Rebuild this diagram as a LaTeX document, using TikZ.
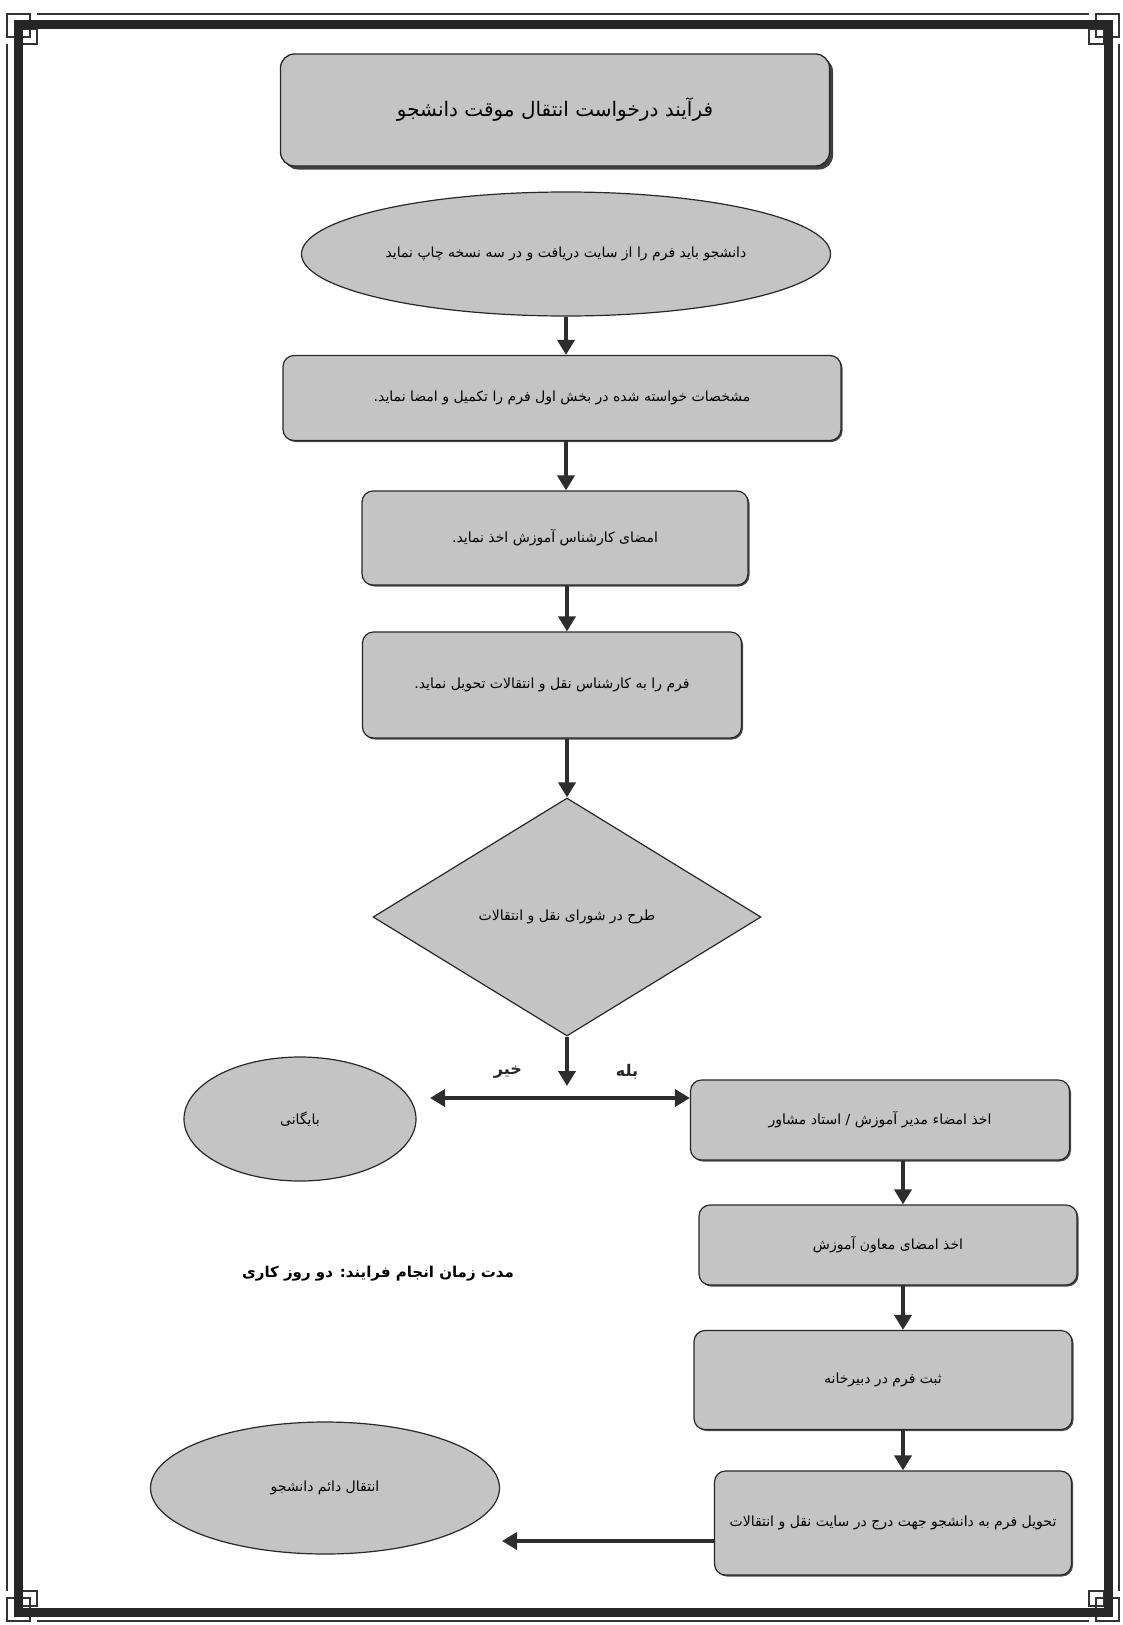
\documentclass[tikz,border=0pt]{standalone}
\usepackage{fontspec}
\usepackage{tikz}
\usetikzlibrary{positioning, arrows.meta, shapes.geometric, shadows, calc}
\TeXXeTstate=1
\newfontfamily\farsifont[Script=Arabic]{DejaVu Sans}
\definecolor{boxgray}{RGB}{196,196,196}
\definecolor{edgegray}{RGB}{40,40,40}
\definecolor{arrowgray}{RGB}{45,45,45}
\tikzset{
    titlebox/.style={rectangle, rounded corners=14pt, draw=edgegray, fill=boxgray, line width=1.3pt, font=\farsifont\fontsize{20}{24}\selectfont, drop shadow={shadow xshift=3.5pt, shadow yshift=-3.5pt, fill=black!75, opacity=1}},
    procbox/.style={rectangle, rounded corners=11pt, draw=edgegray, fill=boxgray, line width=1.2pt, font=\farsifont\fontsize{14}{17}\selectfont, drop shadow={shadow xshift=1.5pt, shadow yshift=-1.5pt, fill=black!70, opacity=1}},
    ovalbox/.style={ellipse, draw=edgegray, fill=boxgray, line width=1.2pt, inner sep=0pt, font=\farsifont\fontsize{14}{17}\selectfont},
    decision/.style={diamond, draw=edgegray, fill=boxgray, line width=1.2pt, inner sep=0pt, aspect=1.63, font=\farsifont\fontsize{14}{17}\selectfont},
    arr/.style={-{Triangle[length=15pt, width=17pt]}, line width=4pt, color=arrowgray},
    dblarr/.style={{Triangle[length=15pt, width=17pt]}-{Triangle[length=15pt, width=17pt]}, line width=4pt, color=arrowgray},
    branchlbl/.style={font=\farsifont\bfseries\fontsize{16}{19}\selectfont, text=black!85},
    thinframe/.style={draw=black!80, line width=1.5pt},
    frameline/.style={draw=black!85, line width=9pt}
}

\begin{document}
\begin{tikzpicture}[x=1pt, y=-1pt]
    % Page and frame
    \useasboundingbox (0,0) rectangle (1122,1625);
    \fill[white] (0,0) rectangle (1122,1625);
    \foreach \sx/\sy in {1/1, -1/1, 1/-1, -1/-1} {
        \begin{scope}[shift={(563,817.5)}, xscale=\sx, yscale=\sy]
            \draw[thinframe] (-556,-803.5) rectangle (-533,-780.5);
            \draw[thinframe] (-541,-788.5) rectangle (-526,-773.5);
            \draw[thinframe] (-526,-803.5) -- (0,-803.5);
            \draw[thinframe] (-556,-773.5) -- (-556,0);
        \end{scope}
    }
    \draw[frameline] (18,24) rectangle (1108,1612);

    % Axes of the arrows
    \coordinate (axis) at (566,0);
    \coordinate (raxis) at (903,0);

    % Main column
    \node[titlebox, minimum width=549pt, minimum height=112pt] (title) at (555,110) {\beginR فرآیند درخواست انتقال موقت دانشجو\endR};
    \node[ovalbox, minimum width=529pt, minimum height=124pt] (start) at (566,254) {\beginR دانشجو باید فرم را از سایت دریافت و در سه نسخه چاپ نماید\endR};
    \node[procbox, minimum width=558pt, minimum height=85pt] (fill) at (562,398) {\beginR مشخصات خواسته شده در بخش اول فرم را تکمیل و امضا نماید.\endR};
    \node[procbox, minimum width=386pt, minimum height=94pt] (expert) at (555,538) {\beginR امضای کارشناس آموزش اخذ نماید.\endR};
    \node[procbox, minimum width=379pt, minimum height=106pt] (handin) at (552,685) {\beginR فرم را به کارشناس نقل و انتقالات تحویل نماید.\endR};
    \node[decision, minimum width=388pt, minimum height=238pt] (council) at (567,917) {\beginR طرح در شورای نقل و انتقالات\endR};

    % Branches
    \coordinate (splitin) at (567,1086);
    \coordinate (split) at (567,1098);
    \coordinate (noend) at (430,1098);
    \node[branchlbl] (nolbl) at (508,1072) {\beginR خیر\endR};
    \node[branchlbl] (yeslbl) at (627,1072) {\beginR بله\endR};
    \node[ovalbox, minimum width=232pt, minimum height=124pt] (archive) at (300,1119) {\beginR بایگانی\endR};

    % Right column
    \node[procbox, minimum width=379pt, minimum height=80pt] (headsign) at (880,1120) {\beginR اخذ امضاء مدیر آموزش / استاد مشاور\endR};
    \node[procbox, minimum width=378pt, minimum height=80pt] (deputysign) at (888,1245) {\beginR اخذ امضای معاون آموزش\endR};
    \node[procbox, minimum width=378pt, minimum height=99pt] (register) at (883,1380) {\beginR ثبت فرم در دبیرخانه\endR};
    \node[procbox, minimum width=357pt, minimum height=104pt] (giveback) at (893,1523) {\beginR تحویل فرم به دانشجو جهت درج در سایت نقل و انتقالات\endR};
    \node[ovalbox, minimum width=349pt, minimum height=132pt] (final) at (325,1488) {\beginR انتقال دائم دانشجو\endR};
    \coordinate (finalin) at (502,1541);

    % Duration note
    \node[font=\farsifont\bfseries\fontsize{15}{18}\selectfont] (duration) at (378,1274) {\beginR مدت زمان انجام فرایند: دو روز کاری\endR};

    % Connectors
    \draw[arr] (start.south -| axis) -- (fill.north -| axis);
    \draw[arr] (fill.south -| axis) -- (expert.north -| axis);
    \draw[arr] (expert.south -| council) -- (handin.north -| council);
    \draw[arr] (handin.south -| council) -- (council.north);
    \draw[arr] (council.south) -- (splitin);
    \draw[dblarr] (noend) -- (split -| headsign.west);
    \draw[arr] (headsign.south -| raxis) -- (deputysign.north -| raxis);
    \draw[arr] (deputysign.south -| raxis) -- (register.north -| raxis);
    \draw[arr] (register.south -| raxis) -- (giveback.north -| raxis);
    \draw[arr] (giveback.west |- finalin) -- (finalin);
\end{tikzpicture}
\end{document}
